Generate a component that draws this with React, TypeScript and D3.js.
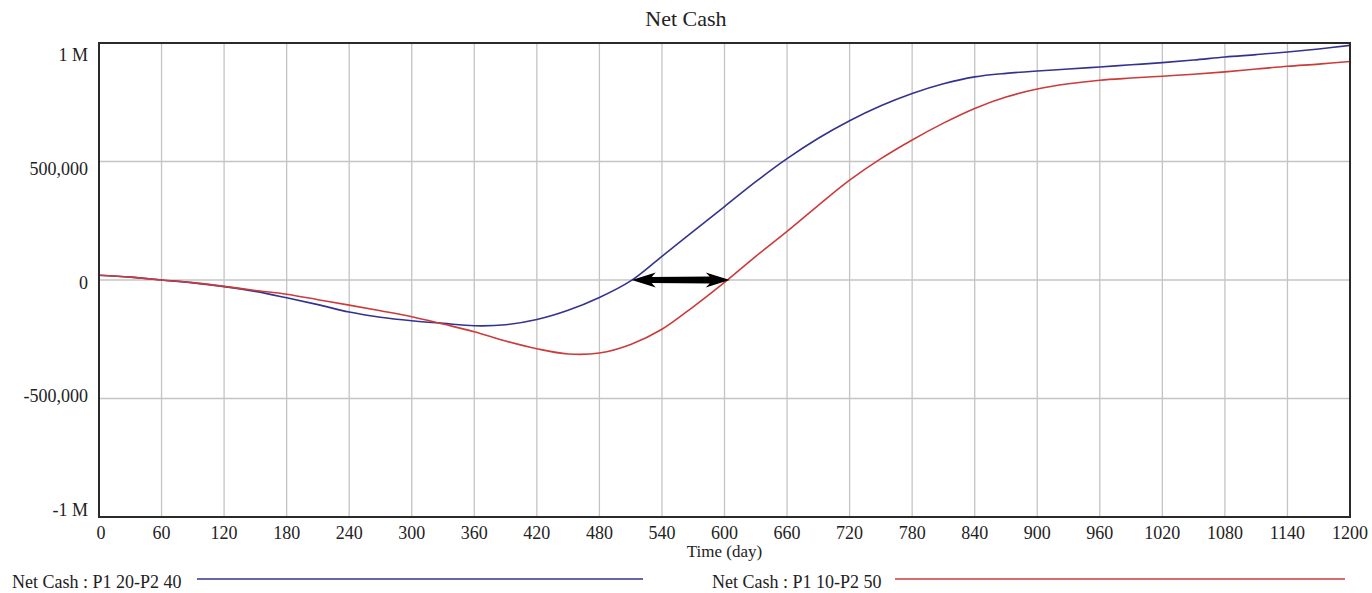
import * as d3 from 'd3';

// simulation output, sampled every 30 days
const days = [
  0, 30, 60, 90, 120, 150, 180, 210, 240, 270, 300, 330, 360, 390, 420, 450,
  480, 510, 540, 570, 600, 630, 660, 690, 720, 750, 780, 810, 840, 870, 900,
  930, 960, 990, 1020, 1050, 1080, 1110, 1140, 1170, 1200
];
const cashP1_20_P2_40 = [
  20000, 12000, 0, -12000, -28000, -48000, -75000, -104000, -135000, -157000,
  -172000, -183000, -193000, -189000, -167000, -128000, -74000, -4000, 100000,
  205000, 310000, 415000, 512000, 598000, 672000, 735000, 787000, 828000,
  857000, 872000, 882000, 890000, 899000, 908000, 917000, 928000, 941000,
  951000, 962000, 975000, 990000
];
const cashP1_10_P2_50 = [
  20000, 12000, 0, -11000, -27000, -44000, -60000, -83000, -106000, -130000,
  -155000, -186000, -218000, -257000, -290000, -312000, -308000, -272000,
  -208000, -113000, -10000, 100000, 205000, 315000, 421000, 512000, 591000,
  662000, 724000, 772000, 806000, 828000, 843000, 852000, 860000, 868000,
  878000, 890000, 902000, 911000, 922000
];
const xTicks = [
  0, 60, 120, 180, 240, 300, 360, 420, 480, 540, 600, 660, 720, 780, 840, 900,
  960, 1020, 1080, 1140, 1200
];
const yTicks = [1000000, 500000, 0, -500000, -1000000];
const yTickLabels = ['1 M', '500,000', '0', '-500,000', '-1 M'];
// payback delay shown by the arrow (days where each run crosses zero)
const gapStart = 511;
const gapEnd = 605;

const seriesNames = ['Net Cash : P1 20-P2 40', 'Net Cash : P1 10-P2 50'];

const W = 1372;
const H = 593;
const margin = { top: 43, right: 22, bottom: 76, left: 99 };
const font = '"Liberation Serif", "Times New Roman", serif';

export default function App() {
  const x = d3
    .scaleLinear()
    .domain([0, 1200])
    .range([margin.left, W - margin.right]);
  const y = d3
    .scaleLinear()
    .domain([-1000000, 1000000])
    .range([H - margin.bottom, margin.top]);
  // vensim squeezes its value labels inside the frame
  const yLabel = d3
    .scaleLinear()
    .domain([-1000000, 1000000])
    .range([H - margin.bottom - 1, margin.top + 18]);

  const line = d3
    .line<number>()
    .x((_, i) => x(days[i]))
    .y((d) => y(d))
    .curve(d3.curveCatmullRom.alpha(0.5));

  const series = [
    { name: seriesNames[0], values: cashP1_20_P2_40, color: '#33338f' },
    { name: seriesNames[1], values: cashP1_10_P2_50, color: '#cc3b3b' }
  ];

  const ax1 = x(gapStart);
  const ax2 = x(gapEnd);
  const ay = y(0);
  const head = 24;
  const arrow =
    `M${ax1},${ay} L${ax1 + head},${ay - 7.5} L${ax1 + head - 4},${ay - 3} ` +
    `L${ax2 - head + 4},${ay - 3.5} L${ax2 - head},${ay - 7.5} L${ax2},${ay} ` +
    `L${ax2 - head},${ay + 7.5} L${ax2 - head + 4},${ay + 3.5} ` +
    `L${ax1 + head - 4},${ay + 3} L${ax1 + head},${ay + 7.5} Z`;

  const plotL = margin.left;
  const plotR = W - margin.right;
  const plotT = margin.top;
  const plotB = H - margin.bottom;

  return (
    <svg
      width={W}
      height={H}
      style={{ position: 'absolute', left: 0, top: 0, background: '#fff' }}
      fontFamily={font}
    >
      <text x={686} y={26} textAnchor="middle" fontSize={22} fill="#222">
        Net Cash
      </text>

      {/* grid */}
      {xTicks.map((t) => (
        <line
          key={'gx' + t}
          x1={x(t)}
          x2={x(t)}
          y1={plotT}
          y2={plotB}
          stroke="#c4c4c4"
          strokeWidth={1.3}
        />
      ))}
      {yTicks.map((t) => (
        <line
          key={'gy' + t}
          x1={plotL}
          x2={plotR}
          y1={y(t)}
          y2={y(t)}
          stroke="#c4c4c4"
          strokeWidth={1.3}
        />
      ))}

      {series.map((s) => (
        <path
          key={s.name}
          d={line(s.values) || ''}
          fill="none"
          stroke={s.color}
          strokeWidth={1.6}
        />
      ))}

      <path d={arrow} fill="#000" />

      <rect
        x={plotL}
        y={plotT}
        width={plotR - plotL}
        height={plotB - plotT}
        fill="none"
        stroke="#2a2a2a"
        strokeWidth={2}
      />

      {/* axes labels */}
      {yTicks.map((t, i) => (
        <text
          key={'ly' + t}
          x={88}
          y={yLabel(t)}
          textAnchor="end"
          fontSize={18}
          fill="#222"
        >
          {yTickLabels[i]}
        </text>
      ))}
      {xTicks.map((t) => (
        <text
          key={'lx' + t}
          x={t === 0 ? x(t) + 2 : x(t)}
          y={539}
          textAnchor="middle"
          fontSize={18}
          fill="#222"
        >
          {t}
        </text>
      ))}
      <text
        x={(plotL + plotR) / 2}
        y={557}
        textAnchor="middle"
        fontSize={17}
        fill="#222"
      >
        Time (day)
      </text>

      {/* legend */}
      <text x={12} y={588} fontSize={18} fill="#222">
        {series[0].name}
      </text>
      <line x1={197} x2={643} y1={579} y2={579} stroke={series[0].color} strokeWidth={1.6} />
      <text x={712} y={588} fontSize={18} fill="#222">
        {series[1].name}
      </text>
      <line x1={895} x2={1345} y1={579} y2={579} stroke={series[1].color} strokeWidth={1.6} />
    </svg>
  );
}
